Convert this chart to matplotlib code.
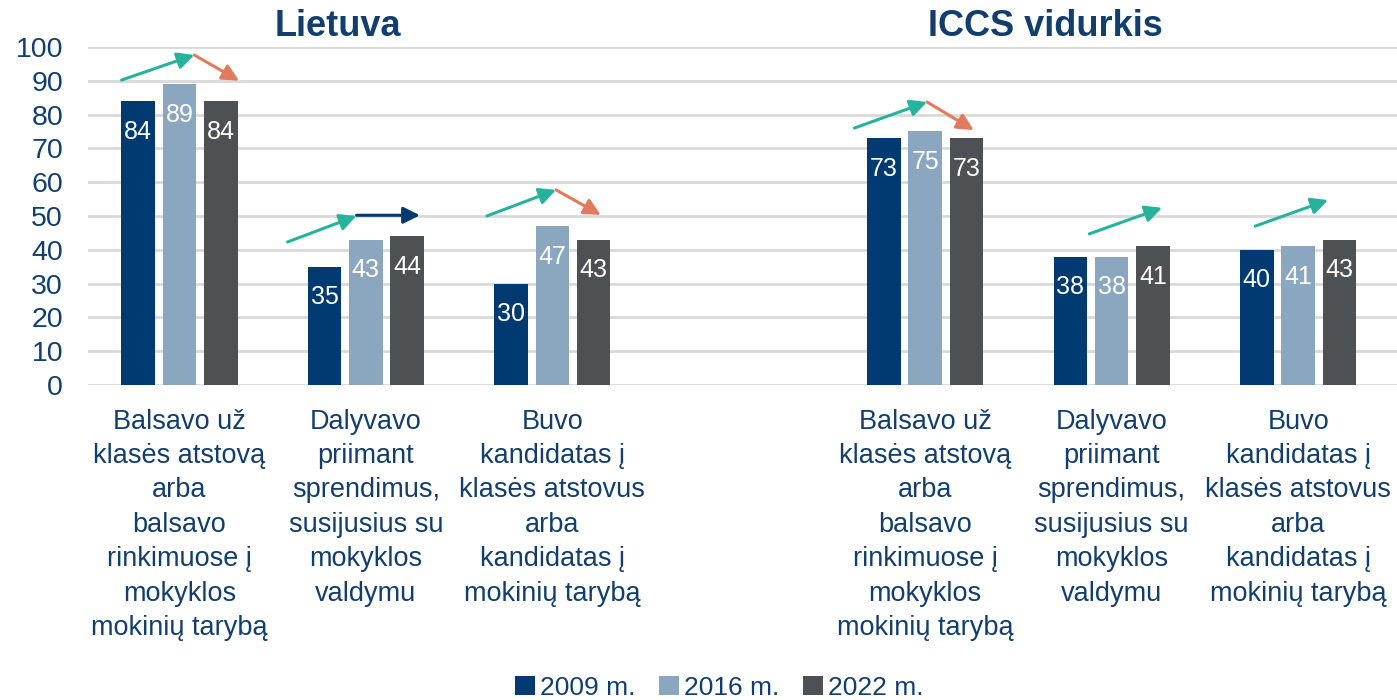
import matplotlib
matplotlib.use("Agg")
import matplotlib.pyplot as plt
import numpy as np

categories = [
    "Balsavo už\nklasės atstovą\narba\nbalsavo\nrinkimuose į\nmokyklos\nmokinių tarybą",
    "Dalyvavo\npriimant\nsprendimus,\nsusijusius su\nmokyklos\nvaldymu",
    "Buvo\nkandidatas į\nklasės atstovus\narba\nkandidatas į\nmokinių tarybą",
    "",
    "Balsavo už\nklasės atstovą\narba\nbalsavo\nrinkimuose į\nmokyklos\nmokinių tarybą",
    "Dalyvavo\npriimant\nsprendimus,\nsusijusius su\nmokyklos\nvaldymu",
    "Buvo\nkandidatas į\nklasės atstovus\narba\nkandidatas į\nmokinių tarybą",
]
series_names = ["2009 m.", "2016 m.", "2022 m."]
v2009 = [84, 35, 30, None, 73, 38, 40]
v2016 = [89, 43, 47, None, 75, 38, 41]
v2022 = [84, 44, 43, None, 73, 41, 43]
yticks = [0, 10, 20, 30, 40, 50, 60, 70, 80, 90, 100]
titles = ["Lietuva", "ICCS vidurkis"]

colors = ["#003A70", "#8BA6BF", "#4D5153"]
text_col = "#123E6E"
teal = "#26B39B"
salmon = "#E07B5F"
navy_arrow = "#003A70"

plt.rcParams['font.family'] = ['Liberation Sans', 'DejaVu Sans']

fig = plt.figure(figsize=(13.97, 7.0), dpi=100)
ax = fig.add_axes([0.063, 0.45, 0.937, 0.483])

x = np.arange(len(categories))
w = 0.18
off = 0.222
for i, (vals, c) in enumerate(zip([v2009, v2016, v2022], colors)):
    xs = [xi + (i - 1) * off for xi, v in zip(x, vals) if v is not None]
    vs = [v for v in vals if v is not None]
    bars = ax.bar(xs, vs, width=w, color=c, label=series_names[i], zorder=3)
    for b, v in zip(bars, vs):
        ax.annotate(str(v), (b.get_x() + b.get_width() / 2, v), xytext=(0, -22),
                    textcoords="offset points", ha="center", va="center",
                    color="white", fontsize=18, zorder=4)

ax.set_ylim(0, 100)
ax.set_xlim(-0.49, 6.53)
ax.set_yticks(yticks)
ax.set_yticklabels([str(t) for t in yticks], fontsize=20.5, color=text_col)
ax.set_xticks(x)
ax.set_xticklabels(categories, fontsize=19.5, color=text_col, linespacing=1.42, va="top")
ax.tick_params(axis="both", length=0)
ax.tick_params(axis="x", pad=17)
ax.tick_params(axis="y", pad=18)
for s in ax.spines.values():
    s.set_visible(False)
ax.yaxis.grid(True, color="#D9D9D9", lw=2, zorder=0)
ax.set_axisbelow(True)

def arrow(x0, y0, x1, y1, c):
    ax.annotate("", xy=(x1, y1), xytext=(x0, y0),
                arrowprops=dict(arrowstyle="-|>,head_length=1.0,head_width=0.5", color=c,
                                lw=2.2, shrinkA=0, shrinkB=0),
                annotation_clip=False, zorder=5)

# Lietuva group 1
arrow(-0.31, 90.2, 0.08, 97.6, teal)
arrow(0.08, 97.6, 0.32, 90.0, salmon)
# Lietuva group 2
arrow(1 - 0.42, 42.3, 1 - 0.05, 50.0, teal)
arrow(1 - 0.05, 50.2, 1 + 0.29, 50.2, navy_arrow)
# Lietuva group 3
arrow(2 - 0.35, 50.0, 2 + 0.02, 57.7, teal)
arrow(2 + 0.02, 57.7, 2 + 0.26, 50.3, salmon)
# ICCS group 1
arrow(4 - 0.38, 76.0, 4 + 0.01, 83.7, teal)
arrow(4 + 0.01, 83.7, 4 + 0.26, 75.4, salmon)
# ICCS group 2
arrow(5 - 0.12, 44.7, 5 + 0.27, 52.4, teal)
# ICCS group 3
arrow(6 - 0.23, 47.0, 6 + 0.16, 54.7, teal)

fig.text(338 / 1397, 1 - 27 / 700, titles[0], ha="center", va="center",
         fontsize=26, fontweight="bold", color=text_col)
fig.text(1045 / 1397, 1 - 27 / 700, titles[1], ha="center", va="center",
         fontsize=26, fontweight="bold", color=text_col)

fig.legend(loc="center", bbox_to_anchor=(0.515, 1 - 688 / 700), ncol=3, frameon=False,
           fontsize=19, labelcolor=text_col, handlelength=0.75, handleheight=0.75,
           handletextpad=0.2, columnspacing=0.9)

fig.savefig("out.png", dpi=100)
